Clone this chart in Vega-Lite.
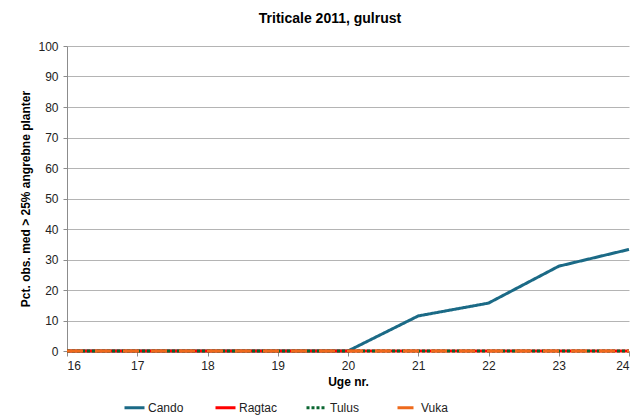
{
  "$schema": "https://vega.github.io/schema/vega-lite/v6.json",
  "autosize": {"type": "none"},
  "padding": {"left": 67, "top": 46, "right": 11, "bottom": 67},
  "width": 562,
  "height": 305,
  "background": "white",
  "title": {
    "text": "Triticale 2011, gulrust",
    "font": "Liberation Sans",
    "fontSize": 14,
    "fontWeight": "bold",
    "color": "#000000",
    "anchor": "middle",
    "dx": -18,
    "offset": 14
  },
  "config": {
    "font": "Liberation Sans",
    "view": {"stroke": null},
    "axis": {
      "labelFont": "Liberation Sans",
      "labelFontSize": 12,
      "labelColor": "#222222",
      "titleFont": "Liberation Sans",
      "titleFontSize": 12,
      "titleFontWeight": "bold",
      "titleColor": "#000000",
      "domainColor": "#8C8C8C",
      "tickColor": "#8C8C8C",
      "gridColor": "#B4B4B4"
    }
  },
  "data": {
    "values": [
      {"uge": 16, "sort": "Cando", "pct": 0},
      {"uge": 17, "sort": "Cando", "pct": 0},
      {"uge": 18, "sort": "Cando", "pct": 0},
      {"uge": 19, "sort": "Cando", "pct": 0},
      {"uge": 20, "sort": "Cando", "pct": 0},
      {"uge": 21, "sort": "Cando", "pct": 11.5},
      {"uge": 22, "sort": "Cando", "pct": 15.7},
      {"uge": 23, "sort": "Cando", "pct": 27.8},
      {"uge": 24, "sort": "Cando", "pct": 33.3},
      {"uge": 16, "sort": "Ragtac", "pct": 0},
      {"uge": 17, "sort": "Ragtac", "pct": 0},
      {"uge": 18, "sort": "Ragtac", "pct": 0},
      {"uge": 19, "sort": "Ragtac", "pct": 0},
      {"uge": 20, "sort": "Ragtac", "pct": 0},
      {"uge": 21, "sort": "Ragtac", "pct": 0},
      {"uge": 22, "sort": "Ragtac", "pct": 0},
      {"uge": 23, "sort": "Ragtac", "pct": 0},
      {"uge": 24, "sort": "Ragtac", "pct": 0},
      {"uge": 16, "sort": "Tulus", "pct": 0},
      {"uge": 17, "sort": "Tulus", "pct": 0},
      {"uge": 18, "sort": "Tulus", "pct": 0},
      {"uge": 19, "sort": "Tulus", "pct": 0},
      {"uge": 20, "sort": "Tulus", "pct": 0},
      {"uge": 21, "sort": "Tulus", "pct": 0},
      {"uge": 22, "sort": "Tulus", "pct": 0},
      {"uge": 23, "sort": "Tulus", "pct": 0},
      {"uge": 24, "sort": "Tulus", "pct": 0},
      {"uge": 16, "sort": "Vuka", "pct": 0},
      {"uge": 17, "sort": "Vuka", "pct": 0},
      {"uge": 18, "sort": "Vuka", "pct": 0},
      {"uge": 19, "sort": "Vuka", "pct": 0},
      {"uge": 20, "sort": "Vuka", "pct": 0},
      {"uge": 21, "sort": "Vuka", "pct": 0},
      {"uge": 22, "sort": "Vuka", "pct": 0},
      {"uge": 23, "sort": "Vuka", "pct": 0},
      {"uge": 24, "sort": "Vuka", "pct": 0}
    ]
  },
  "mark": {"type": "line", "strokeWidth": 3, "strokeCap": "butt"},
  "encoding": {
    "x": {
      "field": "uge",
      "type": "quantitative",
      "scale": {"domain": [16, 24], "nice": false, "zero": false},
      "axis": {
        "title": "Uge nr.",
        "values": [16, 17, 18, 19, 20, 21, 22, 23, 24],
        "format": "d",
        "grid": false,
        "tickSize": 5,
        "labelPadding": 4,
        "titlePadding": 5
      }
    },
    "y": {
      "field": "pct",
      "type": "quantitative",
      "scale": {"domain": [0, 100], "nice": false},
      "axis": {
        "title": "Pct. obs. med > 25% angrebne planter",
        "values": [0, 10, 20, 30, 40, 50, 60, 70, 80, 90, 100],
        "tickSize": 4,
        "labelPadding": 5,
        "titlePadding": 5
      }
    },
    "color": {
      "field": "sort",
      "type": "nominal",
      "scale": {
        "domain": ["Cando", "Ragtac", "Tulus", "Vuka"],
        "range": ["#1B6A86", "#FF0000", "#0A6630", "#EE6A1C"]
      },
      "legend": {
        "title": null,
        "orient": "none",
        "legendX": 56,
        "legendY": 350,
        "direction": "horizontal",
        "columns": 4,
        "gridAlign": "all",
        "columnPadding": 22,
        "symbolType": "stroke",
        "symbolSize": 400,
        "symbolStrokeWidth": 3,
        "labelOffset": 2,
        "labelFont": "Liberation Sans",
        "labelFontSize": 12,
        "labelColor": "#222222"
      }
    },
    "strokeDash": {
      "field": "sort",
      "type": "nominal",
      "scale": {
        "domain": ["Cando", "Ragtac", "Tulus", "Vuka"],
        "range": [[1, 0], [1, 0], [3, 2], [16, 12]]
      },
      "legend": null
    }
  }
}
